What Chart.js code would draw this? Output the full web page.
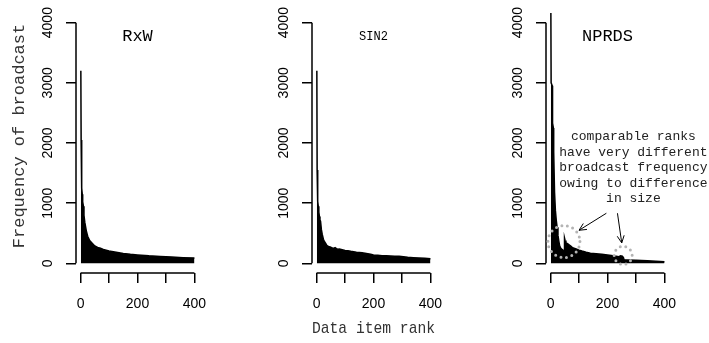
<!DOCTYPE html>
<html>
<head>
<meta charset="utf-8">
<script src="https://cdn.jsdelivr.net/npm/chart.js@4.4.0/dist/chart.umd.min.js"></script>
<style>
  html, body { margin: 0; padding: 0; background: #fff; }
  #wrap { position: relative; width: 709px; height: 343px; overflow: hidden; }
  canvas { position: absolute; top: 0; }
</style>
</head>
<body>
<div id="wrap">
  <canvas id="c1" width="236" height="343" style="left:0px;width:236px;height:343px"></canvas>
  <canvas id="c2" width="236" height="343" style="left:236px;width:236px;height:343px"></canvas>
  <canvas id="c3" width="239" height="343" style="left:470px;width:239px;height:343px"></canvas>
</div>
<script>
// ## data ##
const rxwRank = [1, 2, 3, 4, 5, 6, 7, 8, 10, 12, 15, 20, 25, 32, 40, 50, 60, 70, 80, 100, 125, 150, 175, 200, 240, 280, 320, 360, 400];
const rxwFreq = [3200, 2050, 1650, 1400, 1250, 1150, 1080, 1020, 950, 800, 680, 545, 450, 380, 340, 290, 265, 250, 230, 205, 185, 165, 150, 140, 125, 115, 105, 95, 88];

const sin2Rank = [1, 2, 3, 4, 5, 6, 8, 10, 12, 14, 17, 20, 24, 28, 32, 36, 40, 45, 50, 55, 60, 65, 70, 75, 80, 90, 100, 110, 120, 130, 140, 150, 160, 170, 180, 190, 200, 215, 230, 245, 260, 275, 290, 305, 320, 340, 360, 380, 400];
const sin2Freq = [3200, 1550, 1300, 1150, 1030, 950, 850, 780, 720, 700, 560, 480, 400, 360, 330, 300, 285, 275, 270, 255, 250, 262, 245, 235, 240, 228, 215, 210, 200, 195, 185, 180, 175, 168, 160, 152, 140, 135, 128, 125, 122, 118, 117, 110, 100, 95, 90, 85, 78];

const nprdsRank = [1, 2, 6, 7, 10, 11, 14, 17, 20, 23, 26, 29, 32, 36, 40, 44, 48, 49, 51, 54, 58, 62, 66, 70, 75, 80, 90, 100, 110, 125, 140, 160, 180, 200, 220, 240, 246, 252, 256, 258, 270, 300, 340, 370, 400];
const nprdsFreq = [4300, 3000, 2950, 2330, 2250, 1850, 1180, 880, 720, 600, 470, 370, 290, 250, 230, 220, 215, 420, 380, 340, 330, 320, 305, 290, 270, 255, 240, 220, 205, 185, 170, 160, 150, 140, 125, 110, 125, 120, 95, 60, 58, 50, 42, 35, 25];

const panelTitles = ["RxW", "SIN2", "NPRDS"];
const yTickValues = [0, 1000, 2000, 3000, 4000];
const xTickValues = [0, 100, 200, 300, 400];
const xTickLabels = ["0", "", "200", "", "400"];
const yAxisTitle = "Frequency of broadcast";
const xAxisTitle = "Data item rank";
const noteLines = ["comparable ranks", "have very different", "broadcast frequency", "owing to difference", "in size"];

// R-style plot region: data range plus 4% each side
const X_MIN = -16, X_MAX = 416;
const Y_MIN = -160, Y_MAX = 4160;
const Y_AXIS_W = 76;
const AREA_W = 123;

const mono = '"Liberation Mono", "Courier New", monospace';
const sans = '"Liberation Sans", Arial, sans-serif';

// draws the detached axis lines, panel title and the NPRDS notes
const panelDecor = {
  id: "panelDecor",
  afterDraw(chart, args, opts) {
    const ctx = chart.ctx;
    const x = chart.scales.x;
    const y = chart.scales.y;
    const area = chart.chartArea;
    ctx.save();
    ctx.strokeStyle = "#000";
    ctx.lineWidth = 1.5;
    ctx.beginPath();
    ctx.moveTo(area.left, y.getPixelForValue(yTickValues[0]));
    ctx.lineTo(area.left, y.getPixelForValue(yTickValues[yTickValues.length - 1]));
    ctx.moveTo(x.getPixelForValue(xTickValues[0]), area.bottom);
    ctx.lineTo(x.getPixelForValue(xTickValues[xTickValues.length - 1]), area.bottom);
    ctx.stroke();

    // panel title
    ctx.fillStyle = "#000";
    ctx.textAlign = "center";
    ctx.textBaseline = "middle";
    ctx.font = opts.titleSize + "px " + mono;
    ctx.fillText(opts.title, x.getPixelForValue(200), y.getPixelForValue(3770));

    if (opts.yTitle) {
      ctx.save();
      ctx.translate(19.5, 136);
      ctx.rotate(-Math.PI / 2);
      ctx.font = "17px " + mono;
      ctx.fillStyle = "#333";
      ctx.fillText(yAxisTitle, 0, 0);
      ctx.restore();
    }

    if (opts.notes) {
      // dotted circles
      ctx.save();
      ctx.strokeStyle = "#b4b4b4";
      ctx.lineWidth = 3;
      ctx.lineCap = "round";
      ctx.setLineDash([0, 5.6]);
      [[47, 362, 16], [255, 133, 9]].forEach(function (c) {
        ctx.beginPath();
        ctx.arc(x.getPixelForValue(c[0]), y.getPixelForValue(c[1]), c[2], 0, Math.PI * 2);
        ctx.stroke();
      });
      ctx.restore();

      // arrows
      ctx.strokeStyle = "#000";
      ctx.lineWidth = 1;
      [[196, 833, 100, 550], [235, 833, 250, 340]].forEach(function (a) {
        const x0 = x.getPixelForValue(a[0]), y0 = y.getPixelForValue(a[1]);
        const x1 = x.getPixelForValue(a[2]), y1 = y.getPixelForValue(a[3]);
        const ang = Math.atan2(y1 - y0, x1 - x0);
        const len = 8;
        ctx.beginPath();
        ctx.moveTo(x0, y0);
        ctx.lineTo(x1, y1);
        ctx.moveTo(x1 - len * Math.cos(ang - 0.45), y1 - len * Math.sin(ang - 0.45));
        ctx.lineTo(x1, y1);
        ctx.lineTo(x1 - len * Math.cos(ang + 0.45), y1 - len * Math.sin(ang + 0.45));
        ctx.stroke();
      });

      // note text
      ctx.font = "13px " + mono;
      ctx.fillStyle = "#222";
      const nx = x.getPixelForValue(291);
      const ny = y.getPixelForValue(2100);
      noteLines.forEach(function (line, i) {
        ctx.fillText(line, nx, ny + i * 15.5);
      });
    }
    ctx.restore();
  },
};

function makePanel(id, ranks, freqs, deco) {
  const canvas = document.getElementById(id);
  const padRight = canvas.width - Y_AXIS_W - AREA_W;
  return new Chart(canvas, {
    type: "line",
    data: {
      datasets: [
        {
          data: ranks.map(function (r, i) {
            return { x: r, y: freqs[i] };
          }),
          borderColor: "#000",
          backgroundColor: "#000",
          borderWidth: 1.5,
          fill: "origin",
          pointRadius: 0,
          tension: 0,
        },
      ],
    },
    options: {
      responsive: false,
      animation: false,
      devicePixelRatio: 1,
      layout: { padding: { top: 13, right: padRight, left: 0, bottom: 0 } },
      plugins: {
        legend: { display: false },
        tooltip: { enabled: false },
        panelDecor: deco,
      },
      scales: {
        x: {
          type: "linear",
          min: X_MIN,
          max: X_MAX,
          afterBuildTicks: function (s) {
            s.ticks = xTickValues.map(function (v) { return { value: v }; });
          },
          afterFit: function (s) { s.height = 70; },
          border: { display: false },
          grid: { drawOnChartArea: false, drawTicks: true, tickLength: 10, color: "#000", lineWidth: 1.5 },
          ticks: {
            autoSkip: false,
            maxRotation: 0,
            minRotation: 0,
            padding: 13,
            color: "#000",
            font: { family: sans, size: 14 },
            callback: function (v, i) { return xTickLabels[i]; },
          },
          title: {
            display: !!deco.xTitle,
            text: xAxisTitle,
            color: "#333",
            font: { family: mono, size: 17 },
            padding: { top: 0, bottom: 4 },
          },
        },
        y: {
          type: "linear",
          min: Y_MIN,
          max: Y_MAX,
          afterBuildTicks: function (s) {
            s.ticks = yTickValues.map(function (v) { return { value: v }; });
          },
          afterFit: function (s) { s.width = Y_AXIS_W; },
          border: { display: false },
          grid: { drawOnChartArea: false, drawTicks: true, tickLength: 10, color: "#000", lineWidth: 1.5 },
          ticks: {
            autoSkip: false,
            minRotation: 90,
            maxRotation: 90,
            crossAlign: "center",
            padding: 2,
            color: "#000",
            font: { family: sans, size: 14 },
            callback: function (v) { return String(v); },
          },
        },
      },
    },
    plugins: [panelDecor],
  });
}

makePanel("c1", rxwRank, rxwFreq, { title: panelTitles[0], titleSize: 17, yTitle: true });
makePanel("c2", sin2Rank, sin2Freq, { title: panelTitles[1], titleSize: 12, xTitle: true });
makePanel("c3", nprdsRank, nprdsFreq, { title: panelTitles[2], titleSize: 17, notes: true });
</script>
</body>
</html>
